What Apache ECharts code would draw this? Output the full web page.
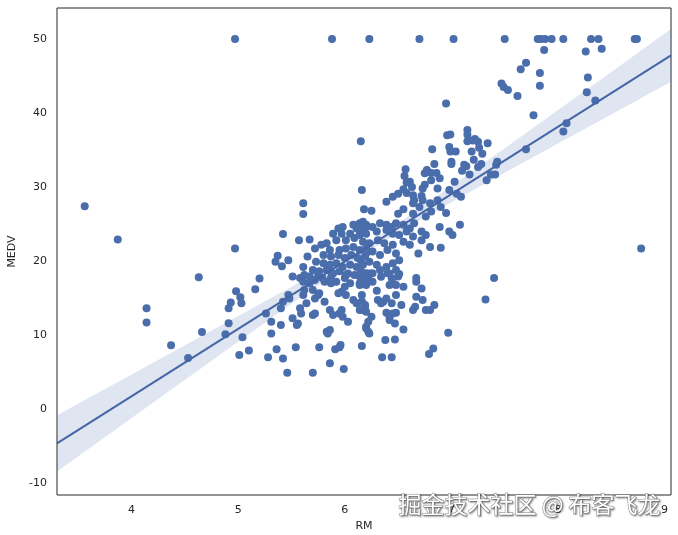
<!DOCTYPE html>
<html><head><meta charset="utf-8">
<script src="https://cdn.jsdelivr.net/npm/echarts@6/dist/echarts.min.js"></script>
<style>html,body{margin:0;padding:0;background:#fff}#c{width:678px;height:535px}</style>
</head><body><div id="c"></div>
<script>
// RM, MEDV pairs
const points = [
[4.97,50],[5.88,50],[6.23,50],[6.70,50],[7.02,50],[7.50,50],[7.81,50],[7.84,50],[7.88,50],[7.94,50],[8.05,50],[8.31,50],[8.38,50],[8.72,50],[8.74,50],
[7.87,48.5],[8.26,48.3],[8.41,48.7],[7.70,46.8],[7.65,45.9],[7.47,44.0],[7.49,43.5],[7.53,43.1],[7.83,45.4],[7.83,43.7],[7.62,42.3],[8.28,44.8],[8.27,42.8],[8.35,41.7],[7.77,39.7],[8.08,38.6],[8.05,37.5],[7.70,35.1],[7.34,35.9],
[6.95,41.3],[6.15,36.2],[6.82,35.1],[6.96,37.0],[6.99,37.1],[6.98,35.4],[6.99,34.8],[7.04,34.8],[7.15,37.7],[7.15,37.1],[7.15,36.2],[6.57,32.4],[6.84,33.1],[7.00,33.4],[7.00,33.1],[7.12,33.0],[7.14,32.8],[7.10,32.2],[6.77,32.3],[6.81,31.9],[6.86,31.9],[6.56,31.5],
[7.20,36.3],[7.22,36.5],[7.25,36.1],[7.19,34.8],[7.26,35.3],[7.29,34.5],[7.21,33.7],[7.28,33.1],[7.25,32.7],[7.43,33.4],[7.42,33.0],[7.17,31.7],[7.37,31.7],[7.41,31.7],[7.33,30.9],
[6.58,30.6],[6.61,30.7],[6.63,30.0],[6.75,31.85],[6.89,31.2],[6.81,30.9],[6.75,30.3],[6.73,29.8],[7.03,30.7],[6.98,29.6],[7.05,29.1],[7.09,28.7],[6.87,29.8],[6.16,29.6],
[6.39,28.0],[6.45,28.7],[6.50,29.1],[6.55,29.7],[6.58,29.2],[6.64,28.9],[6.65,28.2],[6.72,28.8],[6.73,28.2],[6.70,27.3],[6.64,27.8],[6.18,27.0],[6.25,26.8],[6.50,26.4],[6.55,27.0],[6.64,26.4],[6.80,27.8],[6.87,28.2],[6.90,27.3],[6.81,26.7],[6.95,26.5],[6.76,26.0],
[6.17,25.3],[6.20,24.9],[6.26,24.6],[6.33,25.1],[6.39,24.9],[6.44,24.6],[6.48,25.1],[6.55,24.9],[6.61,24.4],[6.65,25.1],
[6.14,24.2],[6.20,23.7],[6.30,24.0],[6.39,24.2],[6.45,23.7],[6.51,23.5],[6.58,24.0],[6.64,23.3],[6.72,24.0],[6.76,23.5],[6.89,24.6],[6.98,24.0],[7.01,23.5],[7.08,24.9],
[6.17,22.6],[6.23,22.4],[6.31,22.8],[6.37,22.4],[6.45,22.2],[6.55,22.6],[6.61,22.2],[6.72,22.8],[6.80,21.9],[6.90,21.8],
[6.20,21.0],[6.26,21.3],[6.33,20.8],[6.40,21.5],[6.48,21.0],[6.51,20.1],[6.69,21.0],
[6.15,20.1],[6.23,19.9],[6.30,19.5],[6.39,19.2],[6.45,19.7],[6.33,18.8],[6.23,18.3],[6.42,18.3],[6.48,18.8],[6.50,17.9],[6.67,17.7],
[5.61,27.8],[5.61,26.35],[5.42,23.65],[5.57,22.8],[5.67,22.9],[5.37,20.7],[5.35,19.9],[5.41,19.3],[5.47,20.1],[5.61,19.2],[5.65,20.6],[5.72,21.7],[5.78,22.2],[5.83,22.4],[5.89,23.7],[5.94,24.4],[5.98,24.6],[5.97,23.7],[6.08,24.9],[6.11,24.4],[6.14,25.1],[6.20,24.6],[6.05,23.7],[6.01,22.8],[6.09,23.1],[6.14,23.5],[5.92,22.8],[5.86,21.5],[5.95,21.5],[6.01,21.7],[6.08,21.9],[6.14,21.5],[6.20,21.7],
[5.80,20.8],[5.87,20.6],[5.94,20.8],[6.00,20.4],[6.06,20.8],[6.12,20.4],[6.19,20.6],[5.73,19.9],[5.80,19.7],[5.86,19.5],[5.92,19.7],[5.98,19.2],[6.05,19.5],[6.11,19.2],[6.17,19.5],
[5.70,18.8],[5.76,18.6],[5.83,18.8],[5.89,18.3],[5.95,18.6],[6.03,18.3],[6.09,18.1],[6.15,18.6],[5.67,17.9],[5.58,17.7],[5.79,17.7],[5.87,17.7],[6.00,17.7],[6.22,17.9],[5.51,17.9],[5.62,18.1],
[5.75,18.1],[5.87,18.55],[6.01,18.1],[6.14,17.9],[6.20,18.33],[5.61,17.2],[5.67,16.98],[5.72,17.43],[5.81,17.2],[5.87,16.98],[5.92,17.2],[6.00,16.53],[6.05,16.98],[6.14,16.98],[6.20,16.75],[5.20,17.65],
[6.17,18.33],[6.22,18.1],[6.26,18.33],[6.34,17.88],[6.40,18.33],[6.44,17.65],[6.51,18.24],[6.20,17.43],[6.26,17.2],[6.14,16.75],
[5.47,15.40],[5.48,14.95],[5.42,14.50],[5.40,13.60],[5.26,12.92],[5.62,16.08],[5.61,15.40],[5.70,16.08],[5.72,14.95],[5.75,15.40],[5.81,14.50],[5.76,15.63],[5.64,14.28],[5.58,13.60],[5.59,12.92],[5.72,12.92],[5.70,12.70],[5.86,13.37],[5.94,15.63],[5.97,15.85],[6.01,15.40],[6.08,14.73],[6.11,14.28],[6.16,14.50],[6.19,13.83],[6.20,13.15],[6.14,13.37],[5.97,13.37],[5.95,12.92],[5.89,12.70],[5.98,12.47],[6.03,11.80],
[5.31,11.80],[5.40,11.35],[5.51,12.25],[5.55,11.35],[5.56,11.57],[5.31,10.22],[5.83,10.45],[5.86,10.67],[5.84,10.22],[6.20,11.12],[6.22,10.45],
[5.36,8.06],[5.54,8.33],[5.76,8.33],[5.91,8.06],[5.95,8.33],[5.96,8.64],[6.16,8.51],[5.28,6.98],[5.42,6.84],[5.86,6.17],[5.46,4.91],[5.70,4.91],[5.99,5.40],
[6.30,15.99],[6.16,15.40],[6.16,14.50],[6.19,14.05],[6.17,13.37],[6.31,14.73],[6.36,14.50],[6.39,14.95],[6.34,14.28],[6.44,14.28],[6.48,15.40],[6.53,14.05],[6.55,16.53],[6.42,16.75],[6.45,16.98],[6.48,16.75],[6.67,17.20],[6.72,16.30],[6.67,15.18],[6.73,14.73],[6.84,14.05],[6.64,13.37],[6.66,13.83],[6.76,13.37],[6.80,13.37],
[6.39,13.01],[6.42,12.47],[6.45,12.92],[6.48,13.01],[6.42,12.02],[6.47,11.57],[6.25,12.47],[6.22,11.80],[6.20,10.90],[6.23,10.22],[6.55,10.76],[6.97,10.31],[6.38,9.32],[6.47,9.41],[6.83,8.19],[6.79,7.43],[6.35,6.98],[6.44,6.98],
[3.56,27.4],[3.87,22.9],[4.97,21.7],[4.63,17.8],[5.16,16.2],[4.98,15.9],[5.02,15.1],[5.03,14.3],[4.93,14.4],[4.91,13.6],[4.14,13.6],[4.14,11.7],[4.91,11.6],[4.66,10.4],[4.88,10.1],[5.04,9.7],
[4.37,8.6],[4.53,6.9],[5.01,7.3],[5.10,7.9],
[8.78,21.7],[7.40,17.7],[7.32,14.8]
];
// regression line and confidence band
const regX = [3.30, 9.06];
const regY = [-4.64, 47.78];
const bandX  = [3.30, 4.0, 5.0, 5.5, 6.0, 6.3, 6.6, 7.0, 7.5, 8.0, 8.5, 9.06];
const bandLo = [-8.44, -1.21, 9.10, 14.23, 19.23, 22.06, 24.67, 27.94, 31.93, 35.87, 39.81, 44.21];
const bandHi = [-0.84, 4.67, 12.56, 16.53, 20.63, 23.26, 26.11, 30.12, 35.23, 40.39, 45.55, 51.35];
const xTicks = [4, 5, 6, 7, 8, 9];
const yTicks = [-10, 0, 10, 20, 30, 40, 50];

const chart = echarts.init(document.getElementById('c'), null, {renderer: 'canvas'});
const txt = '#262626';
const font = 'DejaVu Sans';
chart.setOption({
  animation: false,
  backgroundColor: '#fff',
  grid: {left: 57, right: 7, top: 8, bottom: 40, containLabel: false, outerBoundsMode: 'none',
         show: true, borderColor: '#262626', borderWidth: 1, backgroundColor: 'transparent'},
  xAxis: {
    type: 'value', min: 3.30, max: 9.06,
    name: 'RM', nameLocation: 'middle', nameGap: 24,
    nameTextStyle: {color: txt, fontSize: 11, fontFamily: font},
    axisLine: {show: false}, axisTick: {show: false}, splitLine: {show: false},
    axisLabel: {customValues: xTicks, color: txt, fontSize: 11, fontFamily: font, margin: 10}
  },
  yAxis: {
    type: 'value', min: -11.62, max: 54.19,
    name: 'MEDV', nameLocation: 'middle', nameGap: 38, nameRotate: 90,
    nameTextStyle: {color: txt, fontSize: 11, fontFamily: font},
    axisLine: {show: false}, axisTick: {show: false}, splitLine: {show: false},
    axisLabel: {customValues: yTicks, color: txt, fontSize: 11, fontFamily: font, margin: 10}
  },
  series: [
    {type: 'custom', silent: true, z: 1, clip: true,
     data: [[bandX[0], bandLo[0]]],
     renderItem: function (params, api) {
       const pts = [];
       for (let i = 0; i < bandX.length; i++) pts.push(api.coord([bandX[i], bandHi[i]]));
       for (let i = bandX.length - 1; i >= 0; i--) pts.push(api.coord([bandX[i], bandLo[i]]));
       return {type: 'polygon', shape: {points: pts}, style: {fill: 'rgba(76,114,176,0.18)'}};
     }},
    {type: 'scatter', symbolSize: 8, z: 2,
     itemStyle: {color: '#4a6dab', opacity: 1},
     data: points},
    {type: 'line', symbol: 'none', z: 3,
     lineStyle: {color: '#4466a6', width: 2},
     data: regX.map((x, i) => [x, regY[i]])}
  ],
  graphic: [{
    type: 'text', left: 398, top: 492, z: 100,
    style: {text: '掘金技术社区 @ 布客飞龙', font: '23px "Noto Sans CJK SC"', fill: '#ffffff',
            stroke: '#8a8a8a', lineWidth: 1,
            textShadowColor: 'rgba(0,0,0,0.4)', textShadowBlur: 2, textShadowOffsetX: 1, textShadowOffsetY: 1}
  }]
});
</script></body></html>
